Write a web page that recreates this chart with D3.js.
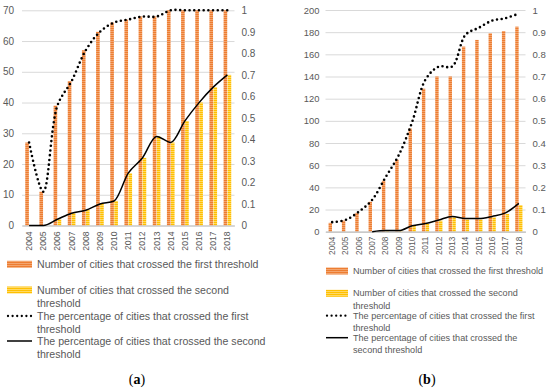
<!DOCTYPE html>
<html>
<head>
<meta charset="utf-8">
<script src="https://cdn.jsdelivr.net/npm/d3@7"></script>
<style>
  body { margin: 0; background: #fff; }
  svg { display: block; font-family: "Liberation Sans", Arial, sans-serif; }
  .tick text { fill: #595959; }
  .grid line { stroke: #d9d9d9; stroke-width: 1; }
</style>
</head>
<body>
<svg id="chart" width="550" height="391"></svg>
<script>
// years on the x axis (both panels)
const years = ['2004','2005','2006','2007','2008','2009','2010','2011','2012','2013','2014','2015','2016','2017','2018'];

// panel (a)
const firstCountA  = [27, 11, 39, 47, 57, 63, 66, 67, 68, 68, 70, 70, 70, 70, 70];
const secondCountA = [0, 0, 2, 4, 5, 7, 8, 17, 22, 29, 27, 34, 40, 45, 49];
const firstPctA  = [0.386, 0.157, 0.557, 0.671, 0.814, 0.9, 0.943, 0.957, 0.971, 0.971, 1, 1, 1, 1, 1];
const secondPctA = [0, 0, 0.029, 0.057, 0.071, 0.1, 0.114, 0.243, 0.314, 0.414, 0.386, 0.486, 0.571, 0.643, 0.7];

// panel (b)
const firstCountB  = [8, 10, 17, 27, 46, 65, 93, 129, 140, 140, 167, 173, 179, 181, 185];
const secondCountB = [0, 0, 0, 0, 1, 1, 5, 7, 10, 13, 11, 11, 13, 16, 24];
const firstPctB  = [0.043, 0.053, 0.09, 0.144, 0.245, 0.346, 0.495, 0.686, 0.745, 0.745, 0.888, 0.92, 0.952, 0.963, 0.984];
const secondPctB = [null, null, null, 0, 0.005, 0.005, 0.027, 0.037, 0.053, 0.069, 0.059, 0.059, 0.069, 0.085, 0.128];

const leftTicksA = [0, 10, 20, 30, 40, 50, 60, 70];
const leftTicksB = [0, 20, 40, 60, 80, 100, 120, 140, 160, 180, 200];
const rightTicks = [0, 1, 2, 3, 4, 5, 6, 7, 8, 9, 10].map(i => i / 10);

const legendA = [
  ['Number of cities that crossed the first threshold'],
  ['Number of cities that crossed the second', 'threshold'],
  ['The percentage of cities that crossed the first', 'threshold'],
  ['The percentage of cities that crossed the second', 'threshold']
];
const legendB = [
  ['Number of cities that crossed the first threshold'],
  ['Number of cities that crossed the second', 'threshold'],
  ['The percentage of cities that crossed the first', 'threshold'],
  ['The percentage of cities that crossed the', 'second threshold']
];

const svg = d3.select('#chart');
const defs = svg.append('defs');

// striped fills like the excel texture
function stripes(id, base, light) {
  let p = defs.append('pattern').attr('id', id)
    .attr('patternUnits', 'userSpaceOnUse').attr('width', 4).attr('height', 2);
  p.append('rect').attr('width', 4).attr('height', 2).attr('fill', base);
  p.append('rect').attr('y', 1.3).attr('width', 4).attr('height', 0.7).attr('fill', light);
}
stripes('orangeStripe', '#ED7D31', '#F6B68A');
stripes('yellowStripe', '#FFC000', '#FFE490');

function drawPanel(cfg) {
  let g = svg.append('g');

  let x = d3.scaleBand().domain(years).range([cfg.left, cfg.right]).paddingInner(0.46).paddingOuter(0.23);
  let xs = d3.scaleBand().domain(['first', 'second']).range([0, x.bandwidth()]).paddingInner(0.1);
  let y = d3.scaleLinear().domain([0, cfg.leftMax]).range([cfg.bottom, cfg.top]);
  let y2 = d3.scaleLinear().domain([0, 1]).range([cfg.bottom, cfg.top]);
  let cx = d => x(d) + x.bandwidth() / 2;

  // gridlines + left axis
  let leftAxis = g.append('g').attr('class', 'grid')
    .attr('transform', 'translate(' + cfg.left + ',0)')
    .call(d3.axisLeft(y).tickValues(cfg.leftTicks).tickSize(-(cfg.right - cfg.left)).tickPadding(cfg.leftPad));
  leftAxis.select('.domain').remove();
  leftAxis.selectAll('text').style('font-size', cfg.tickFont + 'px');

  // right axis
  let rightAxis = g.append('g')
    .attr('transform', 'translate(' + cfg.right + ',0)')
    .call(d3.axisRight(y2).tickValues(rightTicks).tickSize(0).tickPadding(7).tickFormat(d3.format('~g')));
  rightAxis.select('.domain').remove();
  rightAxis.selectAll('text').style('font-size', cfg.rightFont + 'px');

  // bars
  g.selectAll('.bar1').data(cfg.first).enter().append('rect')
    .attr('x', (d, i) => x(years[i]) + xs('first'))
    .attr('width', xs.bandwidth())
    .attr('y', d => y(d))
    .attr('height', d => cfg.bottom - y(d))
    .attr('fill', 'url(#orangeStripe)');
  g.selectAll('.bar2').data(cfg.second).enter().append('rect')
    .attr('x', (d, i) => x(years[i]) + xs('second'))
    .attr('width', xs.bandwidth())
    .attr('y', d => y(d))
    .attr('height', d => cfg.bottom - y(d))
    .attr('fill', 'url(#yellowStripe)');

  // x axis
  let xAxis = g.append('g')
    .attr('transform', 'translate(0,' + cfg.bottom + ')')
    .call(d3.axisBottom(x).tickSize(0).tickPadding(0));
  xAxis.select('.domain').attr('stroke', '#bfbfbf').attr('stroke-width', 1.2);
  xAxis.selectAll('text')
    .style('font-size', cfg.yearFont + 'px')
    .attr('text-anchor', 'end')
    .attr('dy', '0.35em')
    .attr('transform', 'translate(0,' + cfg.yearGap + ') rotate(-90)')
    .attr('y', 0).attr('x', 0);

  // lines
  let line1 = d3.line().defined(d => d !== null)
    .x((d, i) => cx(years[i])).y(d => y2(d)).curve(d3.curveCatmullRom.alpha(0.5));
  let line2 = d3.line().defined(d => d !== null)
    .x((d, i) => cx(years[i])).y(d => y2(d)).curve(d3.curveMonotoneX);

  g.append('path').datum(cfg.secondPct).attr('d', line2)
    .attr('fill', 'none').attr('stroke', '#000').attr('stroke-width', 1.5);
  g.append('path').datum(cfg.firstPct).attr('d', line1)
    .attr('fill', 'none').attr('stroke', '#000').attr('stroke-width', 2.6)
    .attr('stroke-linecap', 'round').attr('stroke-dasharray', '0 4.7');

  // legend
  let lg = g.append('g').attr('transform', 'translate(' + cfg.legX + ',0)');
  let rowY = cfg.legRows;
  cfg.legend.forEach((lines, k) => {
    let yy = rowY[k];
    if (k === 0 || k === 1) {
      lg.append('rect').attr('x', 0).attr('y', yy - 3.5).attr('width', cfg.swW).attr('height', 7)
        .attr('fill', k === 0 ? 'url(#orangeStripe)' : 'url(#yellowStripe)');
    } else if (k === 2) {
      lg.append('line').attr('x1', 1).attr('x2', cfg.swW).attr('y1', yy).attr('y2', yy)
        .attr('stroke', '#000').attr('stroke-width', 2.3).attr('stroke-linecap', 'round').attr('stroke-dasharray', '0 4.6');
    } else {
      lg.append('line').attr('x1', 0).attr('x2', cfg.swW).attr('y1', yy).attr('y2', yy)
        .attr('stroke', '#000').attr('stroke-width', 1.5);
    }
    let t = lg.append('text').attr('x', cfg.swW + 5).attr('y', yy)
      .attr('fill', '#595959').style('font-size', cfg.legFont + 'px');
    lines.forEach((s, j) => {
      t.append('tspan').attr('x', cfg.swW + 5).attr('dy', j === 0 ? '0.35em' : cfg.legLine + 'px').text(s);
    });
  });

  // caption
  let cap = g.append('text').attr('x', cfg.capX).attr('y', 384).attr('text-anchor', 'middle')
    .style('font-family', '"Liberation Serif", serif').style('font-size', '14px').attr('fill', '#000');
  cap.append('tspan').text('(');
  cap.append('tspan').style('font-weight', 'bold').text(cfg.caption);
  cap.append('tspan').text(')');
}

drawPanel({
  left: 22, right: 234.5, top: 10.3, bottom: 225.5, leftMax: 70,
  leftTicks: leftTicksA, leftPad: 8, tickFont: 10, rightFont: 10, yearFont: 8.6, yearGap: 6,
  first: firstCountA, second: secondCountA, firstPct: firstPctA, secondPct: secondPctA,
  legend: legendA, legX: 7, swW: 25, legFont: 10.6, legLine: 13.5, legRows: [264.3, 290, 316, 341],
  capX: 137, caption: 'a'
});

drawPanel({
  left: 325.5, right: 525.5, top: 10, bottom: 231.7, leftMax: 200,
  leftTicks: leftTicksB, leftPad: 6, tickFont: 9.4, rightFont: 9.6, yearFont: 8.2, yearGap: 5,
  first: firstCountB, second: secondCountB, firstPct: firstPctB, secondPct: secondPctB,
  legend: legendB, legX: 326, swW: 22, legFont: 9.1, legLine: 12.3, legRows: [271, 293.3, 315.7, 337.7],
  capX: 427, caption: 'b'
});
</script>
</body>
</html>
